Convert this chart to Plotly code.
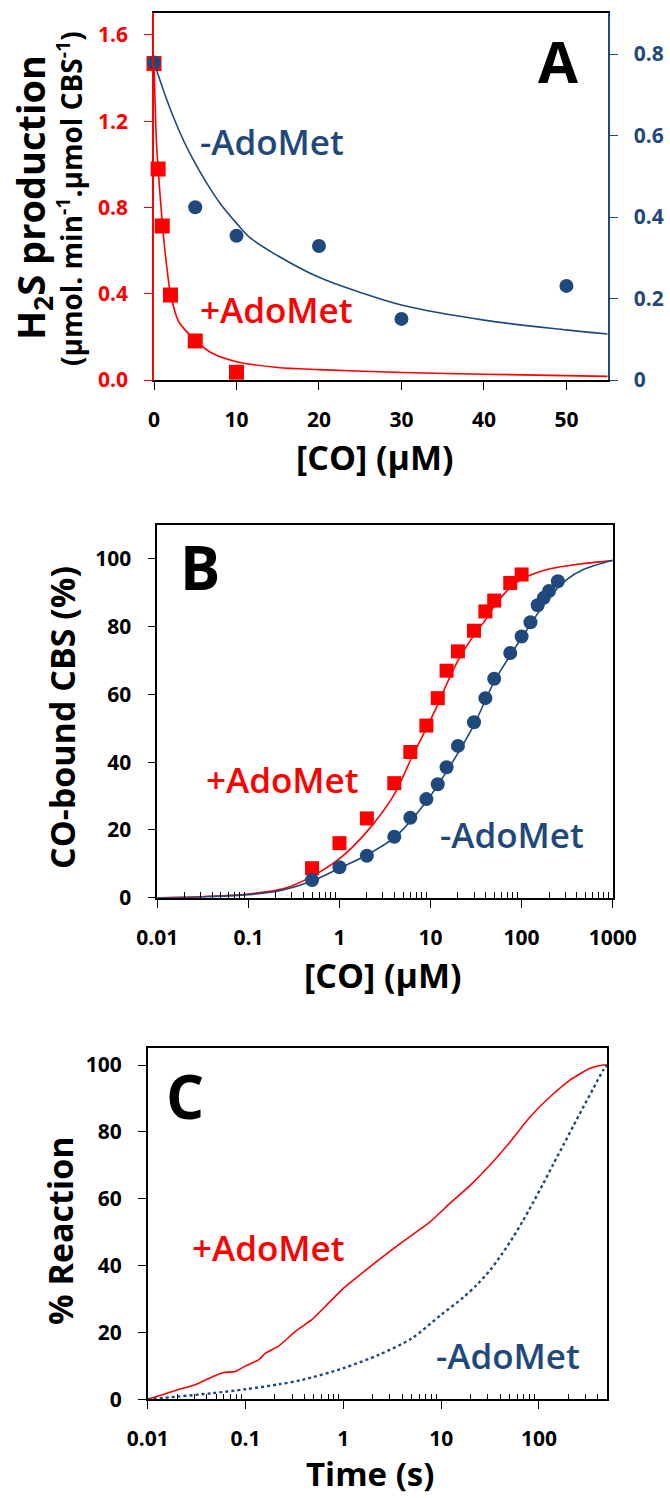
import plotly.graph_objects as go

W, H = 670, 1498
RED = "#FF0000"
BLUE = "#1F497D"
FONT = "Open Sans"

# ---------------- Panel A data ----------------
a_plus_x = [0, 0.5, 1, 2, 5, 10]
a_plus_y = [1.467, 0.978, 0.714, 0.394, 0.181, 0.036]
a_minus_x = [0, 5, 10, 20, 30, 50]
a_minus_y = [0.779, 0.424, 0.354, 0.329, 0.150, 0.231]
a_plus_fit_x = [0, 0.3, 0.5, 1, 1.5, 2, 3, 5, 7, 10, 15, 20, 30, 40, 55]
a_plus_fit_y = [1.467, 1.10, 0.98, 0.73, 0.54, 0.40, 0.27, 0.185, 0.125, 0.085, 0.058, 0.048, 0.035, 0.027, 0.017]
a_minus_fit_x = [0, 1.13, 2.34, 3.55, 4.77, 6.39, 8, 10, 11.6, 15, 20, 25, 30, 40, 50, 55]
a_minus_fit_y = [0.779, 0.712, 0.646, 0.589, 0.540, 0.483, 0.434, 0.385, 0.350, 0.305, 0.252, 0.215, 0.184, 0.147, 0.123, 0.113]
a_x_ticks = [0, 10, 20, 30, 40, 50]
a_yl_ticks = [0, 0.4, 0.8, 1.2, 1.6]
a_yl_text = ["0.0", "0.4", "0.8", "1.2", "1.6"]
a_yr_ticks = [0, 0.2, 0.4, 0.6, 0.8]
a_yr_text = ["0", "0.2", "0.4", "0.6", "0.8"]

# ---------------- Panel B data ----------------
b_plus_x = [0.5, 1, 2, 4, 6, 9, 12, 15, 20, 30, 40, 50, 75, 100]
b_plus_y = [8.7, 16.1, 23.4, 33.8, 43.0, 50.8, 58.9, 67.0, 72.7, 78.8, 84.5, 87.7, 92.9, 95.4]
b_minus_x = [0.5, 1, 2, 4, 6, 9, 12, 15, 20, 30, 40, 50, 75, 100, 125, 150, 175, 200, 250]
b_minus_y = [5.2, 9.0, 12.4, 18.0, 23.6, 29.1, 33.5, 38.5, 44.8, 51.8, 58.9, 64.6, 72.2, 77.1, 81.3, 86.3, 88.5, 90.5, 93.4]
b_plus_fit_x = [0.01, 0.03, 0.1, 0.24, 0.5, 1, 2, 4, 6, 9, 12, 15, 20, 30, 40, 50, 75, 100, 200, 470, 1000]
b_plus_fit_y = [0, 0.3, 1.1, 2.6, 6.3, 11.5, 19.5, 30.5, 40.5, 50, 57, 63, 70, 77.5, 82, 86, 91.5, 94.0, 97.0, 98.6, 99.5]
b_minus_fit_x = [0.01, 0.03, 0.1, 0.24, 0.5, 1, 2, 4, 9, 15, 30, 50, 100, 200, 313, 470, 1000]
b_minus_fit_y = [0, 0.2, 0.9, 2.3, 4.9, 8.7, 12.6, 17.7, 28.4, 37.2, 51, 63.8, 76.7, 88.5, 93.9, 96.8, 99.6]
b_x_ticks = [0.01, 0.1, 1, 10, 100, 1000]
b_x_text = ["0.01", "0.1", "1", "10", "100", "1000"]
b_y_ticks = [0, 20, 40, 60, 80, 100]

# ---------------- Panel C data ----------------
c_plus_x = [0.01, 0.015, 0.02, 0.03, 0.045, 0.06, 0.078, 0.1, 0.136, 0.16, 0.22, 0.32, 0.48,
            0.65, 1, 1.55, 2.3, 4.3, 7.7, 12.3, 19.8, 31.6, 50.7, 81.3, 130, 208, 334, 455, 500]
c_plus_y = [0, 1.6, 2.8, 4.3, 6.6, 8.0, 8.3, 10.0, 11.8, 13.8, 16.0, 20.2, 23.9,
            27.7, 33.2, 37.7, 41.7, 47.7, 53.1, 58.6, 64.0, 70.1, 77.0, 84.5, 90.5, 95.5, 99.0, 100, 100]
c_minus_x = [0.01, 0.02, 0.045, 0.1, 0.22, 0.38, 1, 2.3, 5, 10, 16.9, 23.1, 31.6, 41.7, 54.7, 69.2,
             87.7, 111, 140, 178, 225, 284, 360, 455, 500]
c_minus_y = [0, 0.8, 1.8, 3.0, 4.5, 5.8, 9.3, 13.3, 18.2, 25.3, 30.5, 34.2, 38.6, 43.4, 48.6, 53.6,
             59.0, 64.6, 70.3, 76.1, 81.8, 87.4, 93.0, 98.5, 100]
c_x_ticks = [0.01, 0.1, 1, 10, 100]
c_x_text = ["0.01", "0.1", "1", "10", "100"]
c_y_ticks = [0, 20, 40, 60, 80, 100]


def minor_log(lo_exp, hi_val):
    vals = []
    for e in range(lo_exp, 4):
        for m in range(2, 10):
            v = m * 10 ** e
            if v <= hi_val:
                vals.append(v)
    return vals


def px(x, y):
    return x / W, 1 - y / H


fig = go.Figure()

# Panel A
fig.add_trace(go.Scatter(x=a_plus_fit_x, y=a_plus_fit_y, mode="lines", line=dict(color=RED, width=1.6, shape="spline", smoothing=0.8),
                         xaxis="x", yaxis="y", showlegend=False, hoverinfo="skip"))
fig.add_trace(go.Scatter(x=a_minus_fit_x, y=a_minus_fit_y, mode="lines", line=dict(color=BLUE, width=1.6, shape="spline", smoothing=1.0),
                         xaxis="x", yaxis="y2", showlegend=False, hoverinfo="skip"))
fig.add_trace(go.Scatter(x=a_plus_x, y=a_plus_y, mode="markers", marker=dict(symbol="square", size=15, color=RED),
                         xaxis="x", yaxis="y", showlegend=False, cliponaxis=False))
fig.add_trace(go.Scatter(x=a_minus_x, y=a_minus_y, mode="markers", marker=dict(symbol="circle", size=14, color=BLUE),
                         xaxis="x", yaxis="y2", showlegend=False, cliponaxis=False))

# Panel B
fig.add_trace(go.Scatter(x=b_plus_fit_x, y=b_plus_fit_y, mode="lines", line=dict(color=RED, width=1.6, shape="spline", smoothing=0.8),
                         xaxis="x2", yaxis="y3", showlegend=False))
fig.add_trace(go.Scatter(x=b_minus_fit_x, y=b_minus_fit_y, mode="lines", line=dict(color=BLUE, width=1.6, shape="spline", smoothing=0.8),
                         xaxis="x2", yaxis="y3", showlegend=False))
fig.add_trace(go.Scatter(x=b_plus_x, y=b_plus_y, mode="markers", marker=dict(symbol="square", size=14, color=RED),
                         xaxis="x2", yaxis="y3", showlegend=False, cliponaxis=False))
fig.add_trace(go.Scatter(x=b_minus_x, y=b_minus_y, mode="markers", marker=dict(symbol="circle", size=14, color=BLUE),
                         xaxis="x2", yaxis="y3", showlegend=False, cliponaxis=False))

# Panel C
fig.add_trace(go.Scatter(x=c_plus_x, y=c_plus_y, mode="lines", line=dict(color=RED, width=1.6, shape="spline", smoothing=0.6),
                         xaxis="x3", yaxis="y4", showlegend=False))
fig.add_trace(go.Scatter(x=c_minus_x, y=c_minus_y, mode="lines", line=dict(color=BLUE, width=2.4, dash="dot", shape="spline", smoothing=0.8),
                         xaxis="x3", yaxis="y4", showlegend=False))

tickfont = dict(family=FONT, size=21, color="black", weight="bold")

common_x = dict(showgrid=False, zeroline=False, showline=True, linecolor="black", linewidth=1.6,
                ticks="outside", ticklen=8, tickwidth=1.4, tickcolor="black", tickfont=tickfont,
                mirror=True, ticklabelstandoff=12, fixedrange=True, automargin=False)
common_y = dict(showgrid=False, zeroline=False, showline=True, linecolor="black", linewidth=1.6,
                ticks="outside", ticklen=8, tickwidth=1.4, tickcolor="black", tickfont=tickfont,
                ticklabelstandoff=12, fixedrange=True, automargin=False)

# domains (pixel measured)
ax_dom = [154 / W, 607.7 / W]
ay_dom = [1 - 380 / H, 1 - 13.3 / H]
bx_dom = [157.3 / W, 612.7 / W]
by_dom = [1 - 897.7 / H, 1 - 525 / H]
cx_dom = [147.7 / W, 607.3 / W]
cy_dom = [1 - 1399.3 / H, 1 - 1048.3 / H]

fig.update_layout(
    width=W, height=H, margin=dict(l=0, r=0, t=0, b=0, pad=0, autoexpand=False), autosize=False,
    showlegend=False,
    paper_bgcolor="white", plot_bgcolor="white",
    xaxis=dict(common_x, domain=ax_dom, anchor="y", range=[0, 55], tickmode="array", tickvals=a_x_ticks),
    yaxis=dict(common_y, domain=ay_dom, anchor="x", range=[0, 1.7], tickmode="array", tickvals=a_yl_ticks,
               ticktext=a_yl_text, linecolor=RED, tickcolor=RED, tickfont=dict(tickfont, color=RED)),
    yaxis2=dict(common_y, overlaying="y", side="right", anchor="x", range=[0, 0.9], tickmode="array",
                tickvals=a_yr_ticks, ticktext=a_yr_text, linecolor=BLUE, tickcolor=BLUE,
                tickfont=dict(tickfont, color=BLUE)),
    xaxis2=dict(common_x, domain=bx_dom, anchor="y3", type="log", range=[-2, 3], tickmode="array",
                tickvals=b_x_ticks, ticktext=b_x_text,
                minor=dict(ticks="inside", ticklen=6, tickwidth=1.2, tickcolor="black", tickmode="array",
                           tickvals=minor_log(-2, 1000), showgrid=False)),
    yaxis3=dict(common_y, domain=by_dom, anchor="x2", range=[0, 110], tickmode="array", tickvals=b_y_ticks, mirror=True),
    xaxis3=dict(common_x, domain=cx_dom, anchor="y4", type="log", range=[-2, 2.69897], tickmode="array",
                tickvals=c_x_ticks, ticktext=c_x_text,
                minor=dict(ticks="inside", ticklen=6, tickwidth=1.2, tickcolor="black", tickmode="array",
                           tickvals=minor_log(-2, 500), showgrid=False)),
    yaxis4=dict(common_y, domain=cy_dom, anchor="x3", range=[0, 105], tickmode="array", tickvals=c_y_ticks, mirror=True),
)


def ann(text, x, y, size, color="black", weight="bold", angle=0):
    ax, ay = px(x, y)
    fig.add_annotation(text=text, x=ax, y=ay, xref="paper", yref="paper", showarrow=False,
                       xanchor="center", yanchor="middle", textangle=angle,
                       font=dict(family=FONT, size=size, color=color, weight=weight))


# Panel A texts
ann("H<sub>2</sub>S production", 32, 198, 38, angle=-90)
ann("(μmol. min<sup>-1</sup>.μmol CBS<sup>-1</sup>)", 69, 199, 28, angle=-90)
ann("[CO] (μM)", 375, 457, 34)
ann("A", 558, 60, 58)
ann("-AdoMet", 272, 141, 35, color=BLUE, weight=600)
ann("+AdoMet", 276, 309, 35, color=RED, weight=600)

# Panel B texts
ann("CO-bound CBS (%)", 62, 718, 34, angle=-90)
ann("[CO] (μM)", 383, 975, 34)
ann("B", 200, 567, 60)
ann("+AdoMet", 282, 779, 35, color=RED, weight=600)
ann("-AdoMet", 512, 834, 35, color=BLUE, weight=600)

# Panel C texts
ann("% Reaction", 60, 1231, 34, angle=-90)
ann("Time (s)", 370, 1473, 33)
ann("C", 185, 1096, 60)
ann("+AdoMet", 268, 1247, 35, color=RED, weight=600)
ann("-AdoMet", 508, 1355, 35, color=BLUE, weight=600)

fig.write_html(
    "out.html",
    config={"displayModeBar": False},
    post_script="document.body.style.margin='0';document.body.style.padding='0';"
                "document.documentElement.style.overflow='hidden';",
)
